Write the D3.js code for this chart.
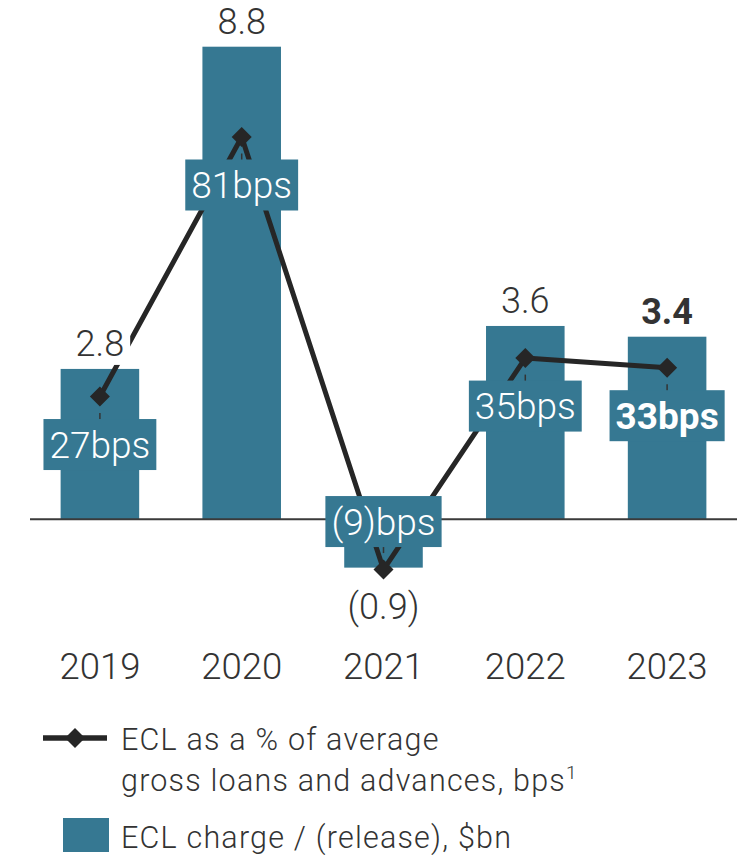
<!DOCTYPE html>
<html>
<head>
<meta charset="utf-8">
<script src="https://cdn.jsdelivr.net/npm/d3@7"></script>
<style>
  html, body { margin: 0; padding: 0; background: #fff; }
  svg { display: block; font-family: Roboto, "Noto Sans", sans-serif; }
</style>
</head>
<body>
<svg id="chart" width="744" height="855"></svg>
<script>
// ECL charge by year ($bn) and ECL as bps of average gross loans and advances
const years = ["2019", "2020", "2021", "2022", "2023"];
const eclCharge = [2.8, 8.8, -0.9, 3.6, 3.4];
const eclBps = [27, 81, -9, 35, 33];
const highlightYear = "2023";

const legendLine = ["ECL as a % of average", "gross loans and advances, bps"];
const legendLineNote = "1";
const legendBar = "ECL charge / (release), $bn";

const barColor = "#367892";
const inkColor = "#333333";
const lineColor = "#262626";

const svg = d3.select("#chart");

const x = d3.scaleBand()
  .domain(years)
  .range([29, 738])
  .paddingInner(0.446)
  .paddingOuter(0.223);

const yBar = d3.scaleLinear().domain([0, d3.max(eclCharge)]).range([519.3, 46.7]);
const yBps = d3.scaleLinear().domain([0, d3.max(eclBps)]).range([526.3, 137]);

const rows = years.map((year, i) => ({ year, ecl: eclCharge[i], bps: eclBps[i], bold: year === highlightYear }));
const cx = d => x(d.year) + x.bandwidth() / 2;

const fmtBn = v => v < 0 ? `(${d3.format(".1f")(-v)})` : d3.format(".1f")(v);
const fmtBps = v => v < 0 ? `(${-v})bps` : `${v}bps`;

// Bars
svg.append("g").selectAll("rect")
  .data(rows)
  .join("rect")
  .attr("x", d => x(d.year))
  .attr("width", x.bandwidth())
  .attr("y", d => yBar(Math.max(0, d.ecl)))
  .attr("height", d => Math.abs(yBar(d.ecl) - yBar(0)))
  .attr("fill", barColor);

// Zero line
svg.append("line")
  .attr("x1", 30).attr("x2", 737)
  .attr("y1", yBar(0)).attr("y2", yBar(0))
  .attr("stroke", "#3a3a3a").attr("stroke-width", 2);

// bps line
const line = d3.line().x(cx).y(d => yBps(d.bps));
svg.append("path")
  .datum(rows)
  .attr("d", line)
  .attr("fill", "none")
  .attr("stroke", lineColor)
  .attr("stroke-width", 5)
  .attr("stroke-linejoin", "round");

// bps labels in boxes, offset from the marker
const bpsFont = 37;
const boxH = 51;
const boxOffset = 48;
const boxCenter = d => yBps(d.bps) + (d.bps >= 0 ? boxOffset : -boxOffset);

const bpsG = svg.append("g").selectAll("g")
  .data(rows)
  .join("g");

// short leader ticks between marker and label box
bpsG.append("line")
  .attr("x1", cx).attr("x2", cx)
  .attr("y1", d => d.bps >= 0 ? boxCenter(d) - boxH / 2 - 6 : boxCenter(d) + boxH / 2 + 6)
  .attr("y2", d => boxCenter(d))
  .attr("stroke", inkColor).attr("stroke-width", 1.5);

bpsG.append("rect")
  .attr("fill", barColor);

const bpsText = bpsG.append("text")
  .attr("x", cx)
  .attr("y", d => boxCenter(d) + bpsFont * 0.355)
  .attr("text-anchor", "middle")
  .attr("fill", "#fff")
  .attr("font-size", bpsFont)
  .attr("font-weight", d => d.bold ? 700 : 300)
  .text(d => fmtBps(d.bps));

bpsText.each(function (d) {
  const w = this.getComputedTextLength() + 12;
  d3.select(this.parentNode).select("rect")
    .attr("x", cx(d) - w / 2)
    .attr("width", w)
    .attr("y", boxCenter(d) - boxH / 2)
    .attr("height", boxH);
});

// Diamond markers
svg.append("g").selectAll("path")
  .data(rows)
  .join("path")
  .attr("d", d3.symbol(d3.symbolSquare, 200))
  .attr("transform", d => `translate(${cx(d)},${yBps(d.bps)}) rotate(45)`)
  .attr("fill", lineColor);

// Value labels with a white knockout behind them
const valFont = 36;
const valG = svg.append("g").selectAll("g")
  .data(rows)
  .join("g");

valG.append("rect").attr("fill", "#fff");
const valText = valG.append("text")
  .attr("x", cx)
  .attr("y", d => d.ecl >= 0 ? yBar(d.ecl) - 13 : yBar(d.ecl) + 51)
  .attr("text-anchor", "middle")
  .attr("fill", inkColor)
  .attr("font-size", valFont)
  .attr("font-weight", d => d.bold ? 700 : 300)
  .text(d => fmtBn(d.ecl));

valText.each(function () {
  const b = this.getBBox();
  d3.select(this.parentNode).select("rect")
    .attr("x", b.x - 6).attr("y", b.y)
    .attr("width", b.width + 12).attr("height", b.height);
});

// Year axis
const xAxis = d3.axisBottom(x).tickSize(0).tickPadding(0);
const axisG = svg.append("g")
  .attr("transform", `translate(0,${679})`)
  .call(xAxis);
axisG.select(".domain").remove();
axisG.selectAll("text")
  .attr("dy", null)
  .attr("y", 0)
  .attr("fill", inkColor)
  .attr("font-size", 36.5)
  .attr("font-weight", 300)
  .attr("font-family", "Roboto, 'Noto Sans', sans-serif");

// Legend
const legend = svg.append("g");
legend.append("line")
  .attr("x1", 43).attr("x2", 107)
  .attr("y1", 738).attr("y2", 738)
  .attr("stroke", lineColor).attr("stroke-width", 5.5);
legend.append("path")
  .attr("d", d3.symbol(d3.symbolSquare, 200))
  .attr("transform", "translate(75,738) rotate(45)")
  .attr("fill", lineColor);

const legendFont = 30.5;
const legendSpacing = 1.2;
legend.append("text")
  .attr("x", 121).attr("y", 750)
  .attr("fill", inkColor).attr("font-size", legendFont).attr("font-weight", 300)
  .attr("letter-spacing", legendSpacing)
  .text(legendLine[0]);
const l2 = legend.append("text")
  .attr("x", 121).attr("y", 791)
  .attr("fill", inkColor).attr("font-size", legendFont).attr("font-weight", 300)
  .attr("letter-spacing", legendSpacing);
l2.append("tspan").text(legendLine[1]);
l2.append("tspan")
  .attr("font-size", 19).attr("dy", -12).attr("dx", 0)
  .text(legendLineNote);

legend.append("rect")
  .attr("x", 63).attr("y", 818)
  .attr("width", 46).attr("height", 34)
  .attr("fill", barColor);
legend.append("text")
  .attr("x", 121).attr("y", 848)
  .attr("fill", inkColor).attr("font-size", legendFont).attr("font-weight", 300)
  .attr("letter-spacing", legendSpacing)
  .text(legendBar);
</script>
</body>
</html>
